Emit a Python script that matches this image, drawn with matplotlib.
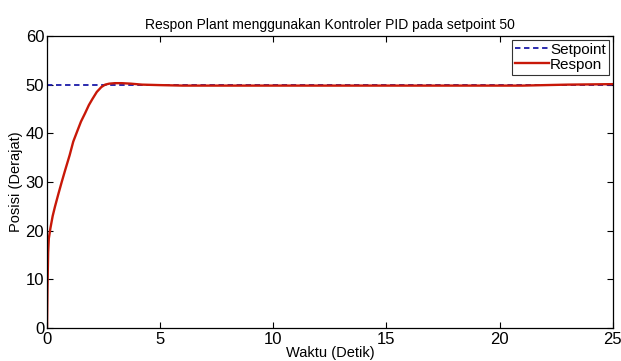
import matplotlib
matplotlib.use("Agg")
import matplotlib.pyplot as plt

plt.rcParams['font.family'] = ['Liberation Sans', 'DejaVu Sans']

title = "Respon Plant menggunakan Kontroler PID pada setpoint 50"
xlabel = "Waktu (Detik)"
ylabel = "Posisi (Derajat)"

setpoint_t = [0, 25]
setpoint_v = [50, 50]

respon_t = [0.0, 0.02, 0.05, 0.08, 0.15, 0.25, 0.35, 0.5, 0.65, 0.8, 1.0, 1.16,
            1.35, 1.5, 1.68, 1.85, 2.0, 2.2, 2.4, 2.57, 2.75, 3.0, 3.3, 3.7,
            4.2, 5.0, 6.0, 8.0, 10.0, 12.0, 15.0, 18.0, 20.0, 21.0, 22.0, 23.0, 25.0]
respon_v = [0.0, 8.0, 15.5, 18.4, 20.5, 23.0, 24.9, 27.5, 30.0, 32.4, 35.5, 38.3,
            40.6, 42.4, 44.1, 45.8, 47.0, 48.5, 49.5, 50.0, 50.2, 50.3, 50.3, 50.2,
            50.0, 49.9, 49.8, 49.8, 49.8, 49.8, 49.8, 49.8, 49.8, 49.8, 49.9, 50.0, 50.1]

xticks = [0, 5, 10, 15, 20, 25]
yticks = [0, 10, 20, 30, 40, 50, 60]

fig = plt.figure(figsize=(6.21, 3.61), dpi=100)
ax = fig.add_axes([0.0757, 0.0914, 0.911, 0.809])

ax.plot(setpoint_t, setpoint_v, linestyle=(0, (3, 2)), color='#1a1aa8', lw=1.3, label='Setpoint')
ax.plot(respon_t, respon_v, color='#c81808', lw=1.7, label='Respon')

ax.set_xlim(0, 25)
ax.set_ylim(0, 60)
ax.set_xticks(xticks)
ax.set_yticks(yticks)
ax.tick_params(direction='in', top=True, right=True, labelsize=12, length=4)
ax.tick_params(axis='x', pad=3)
ax.tick_params(axis='y', pad=2)
for s in ax.spines.values():
    s.set_linewidth(0.9)
ax.set_title(title, fontsize=10, pad=5)
ax.set_xlabel(xlabel, fontsize=10.5, labelpad=-1)
ax.set_ylabel(ylabel, fontsize=10.5, labelpad=2)

leg = ax.legend(loc='upper right', fontsize=11, frameon=True, fancybox=False,
                handlelength=2.2, handletextpad=0.1, borderpad=0.2,
                labelspacing=0.05, borderaxespad=0.25)
leg.get_frame().set_edgecolor('black')
leg.get_frame().set_linewidth(0.8)

fig.savefig("out.png", dpi=100)
